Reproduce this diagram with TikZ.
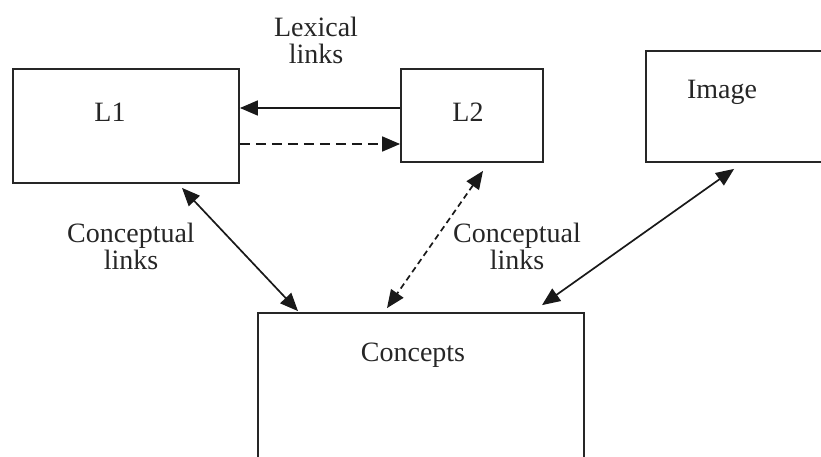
\documentclass[tikz,border=0pt]{standalone}
\usepackage{fontspec}
\setmainfont{Liberation Serif}
\usepackage{tikz}
\usetikzlibrary{arrows.meta, positioning}
\tikzset{
  boxnode/.style={draw, rectangle, line width=1.8pt, draw=black!85, inner sep=0pt},
  boxtext/.style={font=\fontsize{28}{29}\selectfont, text=black!85, inner sep=0pt},
  linktext/.style={font=\fontsize{28}{27}\selectfont, text=black!85, align=center, inner sep=0pt},
  arrow/.style={-{Triangle[length=18pt, width=15pt]}, line width=1.7pt, draw=black!90},
  dblarrow/.style={{Triangle[length=18pt, width=15pt]}-{Triangle[length=18pt, width=15pt]}, line width=1.7pt, draw=black!90},
  dashedarrow/.style={arrow, dash pattern=on 10pt off 6pt},
  dasheddblarrow/.style={dblarrow, dash pattern=on 6pt off 4pt}
}

\begin{document}
\begin{tikzpicture}[x=1pt, y=-1pt]
\useasboundingbox (0,0) rectangle (821,456);
\clip (0,0) rectangle (821,456);

% Nodes
\node[boxnode, minimum width=226pt, minimum height=114pt] (L1) at (126,126) {};
\node[boxnode, minimum width=142pt, minimum height=93pt] (L2) at (472,115.5) {};
\node[boxnode, minimum width=200pt, minimum height=111pt] (Img) at (746,106.5) {};
\node[boxnode, minimum width=326pt, minimum height=180pt] (Conc) at (421,403) {};

\node[boxtext] (L1txt) at (110,112) {L1};
\node[boxtext] (L2txt) at (468,112) {L2};
\node[boxtext] (Imgtxt) at (722,92) {Image};
\node[boxtext] (Conctxt) at (413,355) {Concepts};

\node[linktext] (lexlab) at (316,40) {Lexical\\links};
\node[linktext] (conclabL) at (131,246) {Conceptual\\links};
\node[linktext] (conclabR) at (517,246) {Conceptual\\links};

% Edges
\draw[arrow] (L2.west |- 0,108) -- (L1.east |- 0,108);
\draw[dashedarrow] (L1.east |- 0,144) -- (L2.west |- 0,144);
\draw[dblarrow] ([xshift=56pt, yshift=-4pt]L1.south) -- ([xshift=-123pt, yshift=1pt]Conc.north);
\draw[dasheddblarrow] ([xshift=11pt, yshift=-8pt]L2.south) -- ([xshift=-34pt, yshift=4pt]Conc.north);
\draw[dblarrow] ([xshift=89pt, yshift=-6pt]Img.south west) -- ([xshift=121pt, yshift=7pt]Conc.north);

\end{tikzpicture}
\end{document}
